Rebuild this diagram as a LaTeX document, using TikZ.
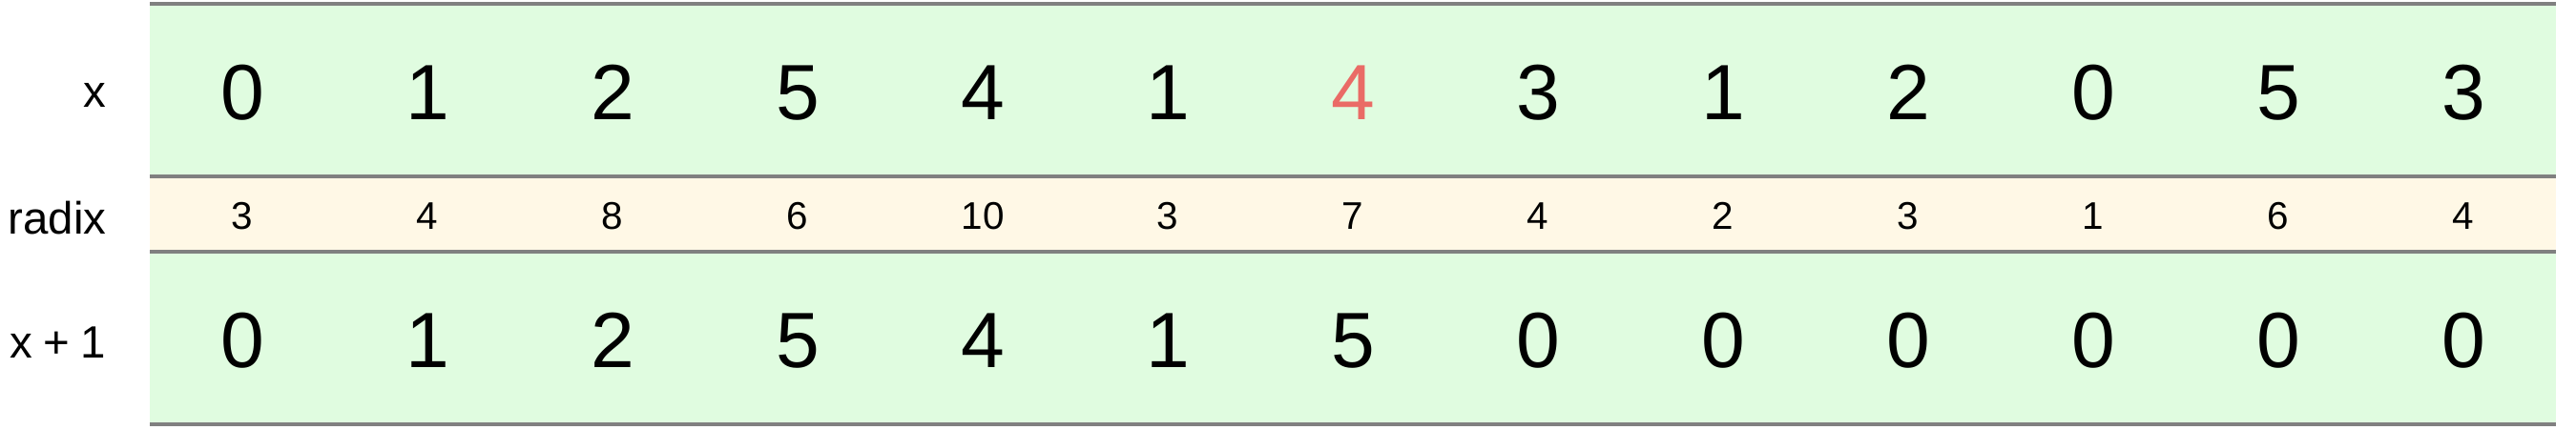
\documentclass[tikz,border=0pt]{standalone}
\usepackage{fontspec}
\setmainfont{Liberation Sans}
\definecolor{cellgreen}{HTML}{E0FCE0}
\definecolor{radixcream}{HTML}{FFF8E6}
\definecolor{hlred}{HTML}{EA6B66}
\definecolor{rulegray}{HTML}{808080}
\begin{document}
\begin{tikzpicture}
    \tikzstyle{digit}=[anchor=base, inner sep=0pt, font=\fontsize{23.4}{28}\selectfont]
    \tikzstyle{radixdigit}=[anchor=base, inner sep=0pt, font=\fontsize{11.5}{14}\selectfont]
    \tikzstyle{rowname}=[anchor=base east, inner sep=0pt, font=\fontsize{13.5}{16}\selectfont]
    \useasboundingbox (0,0) rectangle (27,4.5);

    \fill[cellgreen]  (1.57,2.65) rectangle (26.79,4.46);
    \fill[radixcream] (1.57,1.86) rectangle (26.79,2.65);
    \fill[cellgreen]  (1.57,0.05) rectangle (26.79,1.86);
    \draw[draw=rulegray, line width=0.9pt] (1.57,4.46) -- (26.79,4.46)
                                           (1.57,2.65) -- (26.79,2.65)
                                           (1.57,1.86) -- (26.79,1.86)
                                           (1.57,0.05) -- (26.79,0.05);

    \node[rowname] (xname) at (1.12,3.37) {x};
    \node[rowname] (radixname) at (1.12,2.05) {radix};
    \node[rowname] (nextname) at (1.12,0.75) {x\hspace{0.24em}+\hspace{0.24em}1};

    \foreach \d [count=\i from 0] in {0,1,2,5,4,1,{\color{hlred}4},3,1,2,0,5,3}
        \node[digit] (x\i) at (2.54+1.94*\i,3.25) {\d};
    \foreach \d [count=\i from 0] in {3,4,8,6,10,3,7,4,2,3,1,6,4}
        \node[radixdigit] (r\i) at (2.54+1.94*\i,2.10) {\d};
    \foreach \d [count=\i from 0] in {0,1,2,5,4,1,5,0,0,0,0,0,0}
        \node[digit] (n\i) at (2.54+1.94*\i,0.65) {\d};

\end{tikzpicture}
\end{document}
